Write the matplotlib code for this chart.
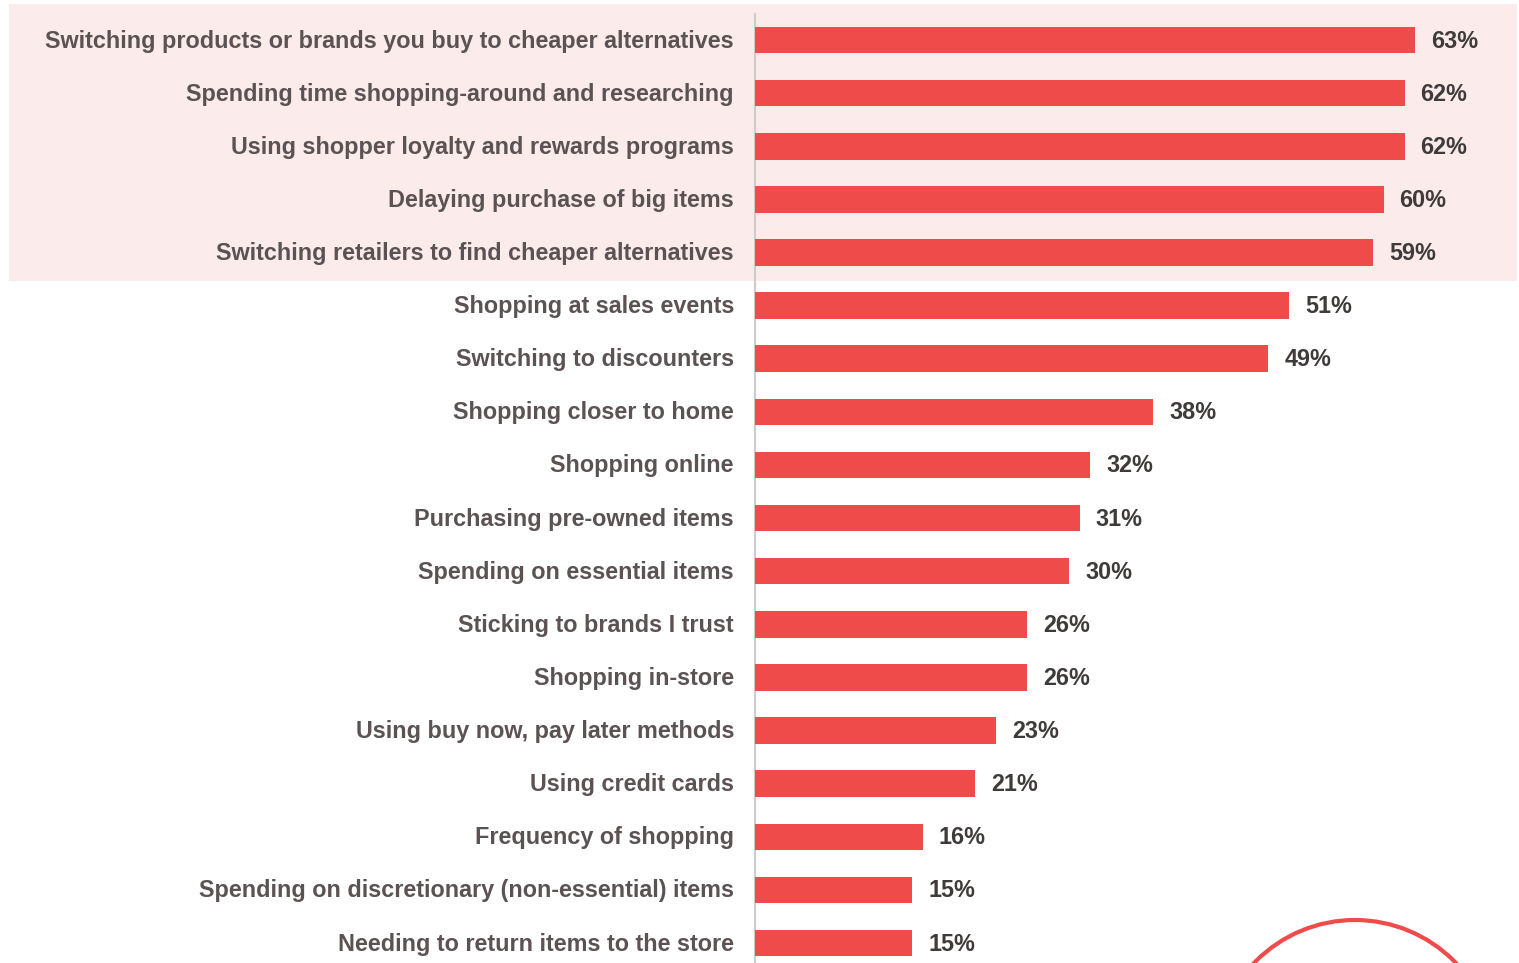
import matplotlib
matplotlib.use("Agg")
import matplotlib.pyplot as plt
from matplotlib.patches import Rectangle, Circle
from matplotlib.transforms import IdentityTransform

categories = [
    "Switching products or brands you buy to cheaper alternatives",
    "Spending time shopping-around and researching",
    "Using shopper loyalty and rewards programs",
    "Delaying purchase of big items",
    "Switching retailers to find cheaper alternatives",
    "Shopping at sales events",
    "Switching to discounters",
    "Shopping closer to home",
    "Shopping online",
    "Purchasing pre-owned items",
    "Spending on essential items",
    "Sticking to brands I trust",
    "Shopping in-store",
    "Using buy now, pay later methods",
    "Using credit cards",
    "Frequency of shopping",
    "Spending on discretionary (non-essential) items",
    "Needing to return items to the store",
]
values = [63, 62, 62, 60, 59, 51, 49, 38, 32, 31, 30, 26, 26, 23, 21, 16, 15, 15]

W, H = 1519, 963
BAR_RED = "#F04B4B"
LABEL_COLOR = "#5B5353"
VALUE_COLOR = "#403B3B"
PINK = "#FCEBEB"

fig = plt.figure(figsize=(W / 100, H / 100), dpi=100)
fig.patch.set_facecolor("white")

# pixel geometry of the plotting area
x0 = 755
px_per_unit = 660 / 63
row0, row_step = 40, 53.12

ax = fig.add_axes([x0 / W, 0, 1 - x0 / W, 1])
ax.set_facecolor("none")
ax.set_zorder(2)
ax.set_xlim(0, (W - x0) / px_per_unit)
ax.set_ylim((H - row0) / row_step, -row0 / row_step)

# highlight band behind the top rows
fig.patches.append(Rectangle((9 / W, 1 - 281 / H), (1517 - 9) / W, (281 - 4) / H,
                             transform=fig.transFigure, facecolor=PINK,
                             edgecolor="none", zorder=-1))

ys = list(range(len(categories)))
ax.barh(ys, values, height=0.5, color=BAR_RED, zorder=3)

FS = 16.8
for y, v, c in zip(ys, values, categories):
    ax.annotate(f"{v}%", xy=(v, y), xytext=(16, -1), textcoords="offset pixels",
                va="center", ha="left", fontsize=FS, fontweight="bold",
                color=VALUE_COLOR, family="Liberation Sans", zorder=4,
                annotation_clip=False)
    ax.annotate(c, xy=(0, y), xytext=(-21, -1), textcoords="offset pixels",
                va="center", ha="right", fontsize=FS, fontweight="bold",
                color=LABEL_COLOR, family="Liberation Sans", zorder=4,
                annotation_clip=False)

for s in ["top", "right", "bottom"]:
    ax.spines[s].set_visible(False)
ax.spines["left"].set_color("#D0CCCC")
ax.spines["left"].set_linewidth(1.5)
ax.spines["left"].set_bounds(-row0 / row_step + 14 / row_step, (H - row0) / row_step)
ax.set_xticks([])
ax.set_yticks([])

# decorative ring at the lower right (pixel coordinates)
fig.patches.append(Circle((1355, H - 1060), 140, transform=IdentityTransform(),
                          facecolor="none", edgecolor=BAR_RED, linewidth=3,
                          zorder=5))

fig.savefig("out.png", dpi=100, facecolor="white")
